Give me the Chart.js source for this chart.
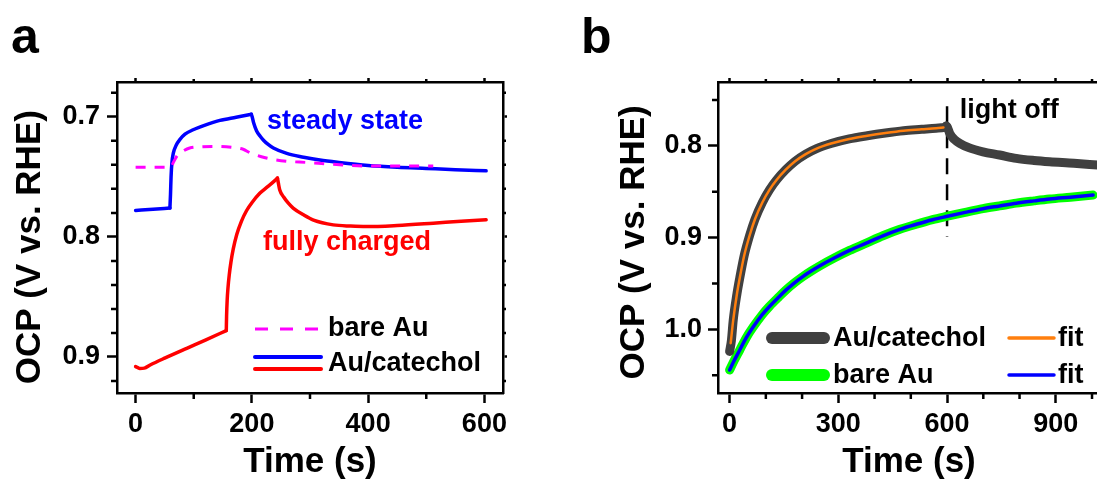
<!DOCTYPE html>
<html>
<head>
<meta charset="utf-8">
<script src="https://cdn.jsdelivr.net/npm/chart.js@4.4.0/dist/chart.umd.min.js"></script>
<style>
  html, body { margin: 0; padding: 0; background: #fff; overflow: hidden; width: 1097px; height: 481px; }
  canvas { position: absolute; top: 0; }
  .tag { position: absolute; font: bold 50px "Liberation Sans", Arial, sans-serif; line-height: 50px; color: #000; }
</style>
</head>
<body>
<canvas id="chartA" style="left:0" width="520" height="481"></canvas>
<canvas id="chartB" style="left:580px" width="520" height="481"></canvas>
<div class="tag" style="left:11px; top:11px">a</div>
<div class="tag" style="left:581px; top:11px">b</div>
<script>
// panel a: OCP under light, bare Au vs Au/catechol
const timeBare = [0, 30, 60, 66, 72, 80, 93, 115, 139, 168, 185, 197, 215, 231, 260, 294, 340, 397, 450, 512];
const ocpBare = [0.742, 0.742, 0.742, 0.737, 0.732, 0.729, 0.726, 0.725, 0.7247, 0.7256, 0.727, 0.730, 0.733, 0.735, 0.737, 0.738, 0.7395, 0.741, 0.741, 0.741];

// steady state catechol, split at light on / light off
const timeSteadyDark = [0, 30, 59];
const ocpSteadyDark = [0.778, 0.777, 0.776];
const timeSteadyOn = [59, 60, 61, 62.5, 65, 70, 76, 85, 99, 116, 145, 173, 195, 199];
const ocpSteadyOn = [0.776, 0.765, 0.750, 0.738, 0.730, 0.7235, 0.719, 0.7145, 0.7108, 0.7075, 0.703, 0.7003, 0.6982, 0.6978];
const timeSteadyOff = [199, 200.5, 203, 208, 214, 220, 228, 237, 260, 289, 317, 350, 400, 450, 500, 550, 603];
const ocpSteadyOff = [0.6978, 0.700, 0.705, 0.7115, 0.716, 0.7195, 0.723, 0.726, 0.7305, 0.7336, 0.736, 0.738, 0.7405, 0.742, 0.743, 0.744, 0.745];

// fully charged catechol
const timeChargedDark = [0, 7, 15, 25, 50, 88, 120, 156];
const ocpChargedDark = [0.908, 0.9095, 0.9093, 0.9067, 0.901, 0.8928, 0.886, 0.878];
const timeChargedOn = [156, 156.5, 157.5, 159, 161, 164, 168, 174, 182, 191, 200, 214, 225, 235, 244];
const ocpChargedOn = [0.878, 0.866, 0.853, 0.842, 0.832, 0.821, 0.810, 0.798, 0.787, 0.778, 0.7715, 0.7635, 0.759, 0.755, 0.751];
const timeChargedOff = [244, 245.5, 248, 255, 262, 271, 290, 306, 340, 370, 397, 450, 512, 560, 603];
const ocpChargedOff = [0.751, 0.755, 0.761, 0.767, 0.7715, 0.776, 0.782, 0.786, 0.790, 0.791, 0.7914, 0.7905, 0.7886, 0.787, 0.7858];

const ticksAx = [0, 200, 400, 600];
const minorAx = [100, 300, 500];
const ticksAy = [0.7, 0.8, 0.9];
const minorAy = [0.68, 0.72, 0.74, 0.76, 0.78, 0.82, 0.84, 0.86, 0.88, 0.92];

// panel b: OCP rise with fits
const timeCatOn = [0, 5, 10, 20, 28, 40, 55, 70, 90, 110, 130, 155, 180, 210, 240, 280, 330, 380, 430, 480, 530, 570, 592, 598];
const ocpCatOn = [1.024, 1.012, 0.99, 0.962, 0.944, 0.920, 0.898, 0.880, 0.862, 0.848, 0.837, 0.826, 0.817, 0.809, 0.803, 0.7975, 0.7925, 0.789, 0.786, 0.7835, 0.782, 0.7808, 0.780, 0.7785];
const timeCatOff = [598, 601, 604, 608, 620, 635, 660, 699, 745, 791, 840, 883, 950, 1015];
const ocpCatOff = [0.7785, 0.780, 0.783, 0.787, 0.793, 0.7974, 0.802, 0.8065, 0.810, 0.8137, 0.816, 0.8174, 0.819, 0.821];

const timeCatFit = [3, 10, 20, 28, 40, 55, 70, 90, 110, 130, 155, 180, 210, 240, 280, 330, 380, 430, 480, 530, 570, 590];
const ocpCatFit = [1.015, 0.99, 0.962, 0.944, 0.920, 0.898, 0.880, 0.862, 0.848, 0.837, 0.826, 0.817, 0.809, 0.803, 0.7975, 0.7925, 0.789, 0.786, 0.7835, 0.782, 0.7808, 0.780];

const timeBareB = [0, 10, 28, 46, 64, 90, 110, 135, 156, 180, 202, 225, 248, 290, 331, 377, 423, 470, 515, 560, 598, 650, 699, 745, 791, 840, 883, 940, 1003];
const ocpBareB = [1.0443, 1.036, 1.0225, 1.009, 0.998, 0.984, 0.975, 0.965, 0.957, 0.949, 0.9425, 0.9365, 0.931, 0.922, 0.914, 0.906, 0.898, 0.891, 0.8855, 0.8805, 0.877, 0.8725, 0.8685, 0.8655, 0.8625, 0.860, 0.858, 0.856, 0.8537];
const ocpBareFit = [1.0443, 1.036, 1.0225, 1.009, 0.998, 0.984, 0.975, 0.965, 0.957, 0.949, 0.9425, 0.9365, 0.931, 0.922, 0.914, 0.906, 0.898, 0.891, 0.8855, 0.8805, 0.877, 0.8725, 0.8685, 0.8655, 0.8625, 0.860, 0.858, 0.856, 0.8537];

const lightOffT = [600, 600];
const lightOffV = [0.757, 0.899];

const ticksBx = [0, 300, 600, 900];
const minorBx = [100, 200, 400, 500, 700, 800, 1000];
const ticksBy = [0.8, 0.9, 1.0];
const minorBy = [0.75, 0.85, 0.95, 1.05];

const FONT = '"Liberation Sans", Arial, Helvetica, sans-serif';
const tickFont = { family: FONT, size: 27, weight: 'bold' };
const titleFont = { family: FONT, size: 35, weight: 'bold', lineHeight: 1 };

const pts = (xs, ys) => xs.map((x, i) => ({ x: x, y: ys[i] }));

function axis(position, min, max, major, size, extra) {
  const horiz = position === 'top' || position === 'bottom';
  return Object.assign({
    type: 'linear', position: position, min: min, max: max,
    afterBuildTicks: s => { s.ticks = major.map(v => ({ value: v })); },
    afterFit: s => { if (horiz) s.height = size; else s.width = size; },
    grid: { drawOnChartArea: false, drawTicks: true, tickLength: 4, tickWidth: 2.5, tickColor: '#000' },
    border: { display: true, color: '#000', width: 2.5 },
    ticks: { display: false }
  }, extra || {});
}

function minorTicks(xs, ys, sides) {
  return {
    id: 'minorTicks',
    afterDraw(chart) {
      const ctx = chart.ctx, a = chart.chartArea;
      ctx.save();
      ctx.strokeStyle = '#000';
      ctx.lineWidth = 2.5;
      ctx.beginPath();
      xs.forEach(v => {
        const p = chart.scales.x.getPixelForValue(v);
        ctx.moveTo(p, a.bottom); ctx.lineTo(p, a.bottom + 6);
        if (sides.top) { ctx.moveTo(p, a.top); ctx.lineTo(p, a.top - 3); }
      });
      ys.forEach(v => {
        const p = chart.scales.y.getPixelForValue(v);
        ctx.moveTo(a.left, p); ctx.lineTo(a.left - 6, p);
        if (sides.right) { ctx.moveTo(a.right, p); ctx.lineTo(a.right + 3, p); }
      });
      ctx.stroke();
      ctx.restore();
    }
  };
}

function notes(items) {
  return {
    id: 'notes',
    afterDatasetsDraw(chart) {
      const ctx = chart.ctx;
      ctx.save();
      ctx.font = 'bold 27px ' + FONT;
      ctx.textAlign = 'left';
      ctx.textBaseline = 'middle';
      items.forEach(n => {
        ctx.fillStyle = n.color;
        ctx.fillText(n.text, chart.scales.x.getPixelForValue(n.t), chart.scales.y.getPixelForValue(n.v));
      });
      ctx.restore();
    }
  };
}

// hand drawn key, offsets in canvas pixels
function key(lines, labels) {
  return {
    id: 'key',
    afterDatasetsDraw(chart) {
      const ctx = chart.ctx;
      ctx.save();
      lines.forEach(l => {
        ctx.strokeStyle = l.color;
        ctx.lineWidth = l.width;
        ctx.lineCap = l.dash ? 'butt' : 'round';
        ctx.setLineDash(l.dash || []);
        ctx.beginPath();
        ctx.moveTo(l.x0, l.y); ctx.lineTo(l.x1, l.y);
        ctx.stroke();
      });
      ctx.setLineDash([]);
      ctx.font = 'bold 27px ' + FONT;
      ctx.fillStyle = '#000';
      ctx.textAlign = 'left';
      ctx.textBaseline = 'middle';
      labels.forEach(t => ctx.fillText(t.text, t.x, t.y));
      ctx.restore();
    }
  };
}

const common = {
  responsive: false,
  animation: false,
  devicePixelRatio: 1,
  layout: { padding: 0 },
  elements: {
    point: { radius: 0, hoverRadius: 0 },
    line: { tension: 0.4, cubicInterpolationMode: 'monotone', borderCapStyle: 'round', borderJoinStyle: 'round', fill: false }
  },
  plugins: { legend: { display: false }, tooltip: { enabled: false } }
};

const BLUE = '#0000ff', RED = '#ff0000';

new Chart(document.getElementById('chartA'), {
  type: 'line',
  data: {
    datasets: [
      { label: 'bare Au', data: pts(timeBare, ocpBare), borderColor: '#ff00ff', borderWidth: 3, borderDash: [10, 9], borderCapStyle: 'butt', order: 0 },
      { label: 'Au/catechol', data: pts(timeSteadyDark, ocpSteadyDark), borderColor: BLUE, borderWidth: 3.5, order: 1 },
      { label: 'Au/catechol', data: pts(timeSteadyOn, ocpSteadyOn), borderColor: BLUE, borderWidth: 3.5, order: 1 },
      { label: 'Au/catechol', data: pts(timeSteadyOff, ocpSteadyOff), borderColor: BLUE, borderWidth: 3.5, order: 1 },
      { label: 'Au/catechol', data: pts(timeChargedDark, ocpChargedDark), borderColor: RED, borderWidth: 3.5, order: 2 },
      { label: 'Au/catechol', data: pts(timeChargedOn, ocpChargedOn), borderColor: RED, borderWidth: 3.5, order: 2 },
      { label: 'Au/catechol', data: pts(timeChargedOff, ocpChargedOff), borderColor: RED, borderWidth: 3.5, order: 2 }
    ]
  },
  options: Object.assign({}, common, {
    scales: {
      x: axis('bottom', -32, 632, ticksAx, 88, {
        grid: { drawOnChartArea: false, tickLength: 10, tickWidth: 2.5, tickColor: '#000' },
        ticks: { display: true, font: tickFont, color: '#000', padding: 5, maxRotation: 0, autoSkip: false, callback: v => String(v) },
        title: { display: true, text: 'Time (s)', font: titleFont, color: '#000', padding: { top: 0, bottom: 1 } }
      }),
      xTop: axis('top', -32, 632, ticksAx, 82),
      y: axis('left', 0.671, 0.93, ticksAy, 117, {
        reverse: true,
        grid: { drawOnChartArea: false, tickLength: 10, tickWidth: 2.5, tickColor: '#000' },
        ticks: { display: true, font: tickFont, color: '#000', padding: 7, autoSkip: false, callback: v => v.toFixed(1) },
        title: { display: true, text: 'OCP (V vs. RHE)  ', font: titleFont, color: '#000', padding: { top: 13, bottom: 0 } }
      }),
      yRight: axis('right', 0.671, 0.93, ticksAy, 17, { reverse: true })
    }
  }),
  plugins: [
    minorTicks(minorAx, minorAy, { top: true, right: true }),
    notes([
      { text: 'steady state', t: 226, v: 0.704, color: BLUE },
      { text: 'fully charged', t: 219, v: 0.805, color: RED }
    ]),
    key([
      { x0: 255, x1: 320, y: 329, color: '#ff00ff', width: 3, dash: [13, 12] },
      { x0: 255, x1: 321, y: 357, color: BLUE, width: 4 },
      { x0: 255, x1: 321, y: 369, color: RED, width: 4 }
    ], [
      { text: 'bare Au', x: 328, y: 329 },
      { text: 'Au/catechol', x: 328, y: 364 }
    ])
  ]
});

new Chart(document.getElementById('chartB'), {
  type: 'line',
  data: {
    datasets: [
      { label: 'fit', data: pts(timeCatFit, ocpCatFit), borderColor: '#ff7f0e', borderWidth: 2.5, order: 0 },
      { label: 'fit', data: pts(timeBareB, ocpBareFit), borderColor: BLUE, borderWidth: 3.5, order: 1 },
      { label: 'Au/catechol', data: pts(timeCatOn, ocpCatOn), borderColor: '#404040', borderWidth: 9, order: 2 },
      { label: 'Au/catechol', data: pts(timeCatOff, ocpCatOff), borderColor: '#404040', borderWidth: 9, order: 2 },
      { label: 'bare Au', data: pts(timeBareB, ocpBareB), borderColor: '#00ff00', borderWidth: 9, order: 3 },
      { label: 'light off', data: pts(lightOffT, lightOffV), borderColor: '#000', borderWidth: 2.5, borderDash: [16, 10], borderCapStyle: 'butt', tension: 0, cubicInterpolationMode: 'default', order: 4 }
    ]
  },
  options: Object.assign({}, common, {
    scales: {
      x: axis('bottom', -32, 1022, ticksBx, 88, {
        grid: { drawOnChartArea: false, tickLength: 10, tickWidth: 2.5, tickColor: '#000' },
        ticks: { display: true, font: tickFont, color: '#000', padding: 5, maxRotation: 0, autoSkip: false, callback: v => String(v) },
        title: { display: true, text: 'Time (s)', font: titleFont, color: '#000', padding: { top: 0, bottom: 1 } }
      }),
      xTop: axis('top', -32, 1022, ticksBx, 82),
      y: axis('left', 0.7305, 1.0693, ticksBy, 138, {
        reverse: true,
        grid: { drawOnChartArea: false, tickLength: 10, tickWidth: 2.5, tickColor: '#000' },
        ticks: { display: true, font: tickFont, color: '#000', padding: 6, autoSkip: false, callback: v => v.toFixed(1) },
        title: { display: true, text: 'OCP (V vs. RHE) ', font: titleFont, color: '#000', padding: { top: 37, bottom: 0 } }
      })
    }
  }),
  plugins: [
    minorTicks(minorBx, minorBy, { top: true, right: false }),
    notes([
      { text: 'light off', t: 635, v: 0.762, color: '#000' }
    ]),
    key([
      { x0: 192, x1: 244, y: 338, color: '#404040', width: 12 },
      { x0: 192, x1: 244, y: 375, color: '#00ff00', width: 12 },
      { x0: 429, x1: 474, y: 338, color: '#ff7f0e', width: 3.5 },
      { x0: 429, x1: 474, y: 375, color: BLUE, width: 3.5 }
    ], [
      { text: 'Au/catechol', x: 253, y: 339 },
      { text: 'bare Au', x: 253, y: 376 },
      { text: 'fit', x: 478, y: 339 },
      { text: 'fit', x: 478, y: 376 }
    ])
  ]
});
</script>
</body>
</html>
